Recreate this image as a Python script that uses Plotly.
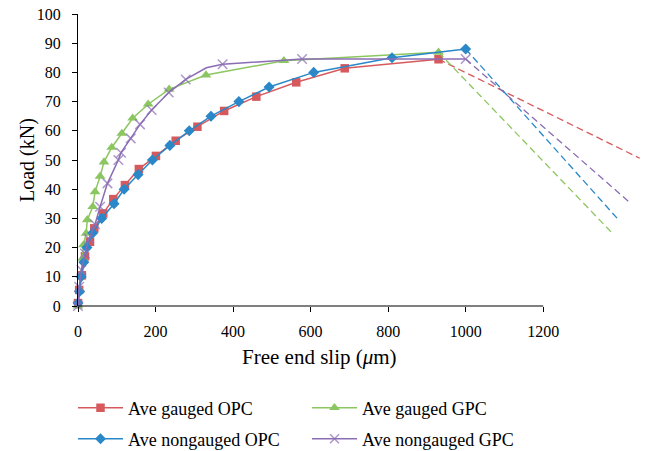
import plotly.graph_objects as go

# Average load-slip curves for pull-out specimens (slip in micrometres, load in kN)
gauged_opc_slip = [0, 3, 10, 18, 31, 42, 65, 91, 121, 157, 201, 252, 308, 377, 460, 563, 688, 930]
gauged_opc_load = [1, 5.5, 10.5, 17, 22, 26.6, 31.7, 36.6, 41.4, 46.9, 51.4, 56.6, 61.4, 66.8, 71.7, 76.6, 81.4, 84.5]

gauged_gpc_slip = [0, 5, 8, 12, 14, 21, 24, 38, 44, 57, 67, 87, 113, 141, 181, 235, 330, 531, 930]
gauged_gpc_load = [0, 5.5, 10.6, 16.3, 20.9, 24.9, 29.5, 34, 39.1, 44.4, 49.3, 54.3, 59.1, 64.3, 69.1, 74.2, 79.1, 84, 86.9]

nongauged_opc_slip = [0, 4, 8, 15, 23, 38, 61, 93, 119, 155, 192, 237, 287, 343, 415, 493, 608, 810, 1000]
nongauged_opc_load = [1, 5, 10, 15, 20, 25, 30, 35, 40, 45, 50, 55, 60, 65, 70, 75, 80, 85, 88]

nongauged_gpc_slip = [0, 3, 9, 18, 28, 44, 57, 76, 104, 111, 136, 160, 190, 234, 278, 331, 373, 578, 1000]
nongauged_gpc_load = [0, 6.6, 12.3, 18, 23, 28, 34, 42, 50, 52.5, 57.4, 62.2, 67.1, 73.1, 77.6, 81.6, 82.8, 84.6, 84.6]

# Post-peak descending branches (trend extension from the peak point)
gauged_opc_tail = ([930, 1449], [84.5, 50.6])
gauged_gpc_tail = ([930, 1380], [86.9, 24.7])
nongauged_opc_tail = ([1000, 1393], [88, 29.7])
nongauged_gpc_tail = ([1000, 1421], [84.6, 35.7])

x_ticks = [0, 200, 400, 600, 800, 1000, 1200]
y_ticks = [0, 10, 20, 30, 40, 50, 60, 70, 80, 90, 100]

RED = "#D65A5D"
GREEN = "#8CC661"
BLUE = "#2A87C8"
PURPLE = "#8A6DB4"
SERIF = "Liberation Serif"

fig = go.Figure()

series = [
    ("Ave gauged OPC", gauged_opc_slip, gauged_opc_load, gauged_opc_tail, RED, "square", 8.5, "legend"),
    ("Ave gauged GPC", gauged_gpc_slip, gauged_gpc_load, gauged_gpc_tail, GREEN, "triangle-up", 9.5, "legend"),
    ("Ave nongauged OPC", nongauged_opc_slip, nongauged_opc_load, nongauged_opc_tail, BLUE, "diamond", 8.5, "legend2"),
    ("Ave nongauged GPC", nongauged_gpc_slip, nongauged_gpc_load, nongauged_gpc_tail, PURPLE, "x-thin", 9.5, "legend2"),
]

# the purple curve has a vertex without a marker at its knee
purple_knee = 15

for name, xs, ys, tail, color, symbol, size, leg in series:
    sizes = size
    if symbol == "x-thin":
        sizes = [0 if i == purple_knee else size for i in range(len(xs))]
    fig.add_trace(go.Scatter(
        x=tail[0], y=tail[1], mode="lines", showlegend=False,
        line=dict(color=color, width=1.3, dash="7px,4px"), hoverinfo="skip",
    ))
    fig.add_trace(go.Scatter(
        x=xs, y=ys, name=name, mode="lines+markers", legend=leg,
        line=dict(color=color, width=1.5),
        marker=dict(symbol=symbol, size=sizes, color=color,
                    line=dict(color=color, width=1.5 if symbol == "x-thin" else 0)),
        cliponaxis=False,
    ))

# x-axis line spans only the labelled range
fig.add_shape(type="line", xref="x", yref="paper", x0=0, x1=1200, y0=0, y1=0,
              line=dict(color="black", width=1.2))

fig.add_annotation(text="Free end slip (<i>μ</i>m)", xref="x", yref="paper",
                   x=624, y=0, yshift=-51, xanchor="center", yanchor="middle",
                   showarrow=False, font=dict(family=SERIF, size=21, color="black"))
fig.add_annotation(text="Load (kN)", xref="paper", yref="paper", x=0, y=0.5,
                   xshift=-51, xanchor="center", yanchor="middle", textangle=-90,
                   showarrow=False, font=dict(family=SERIF, size=20, color="black"))

legend_style = dict(orientation="h", xref="container", yref="container",
                    xanchor="left", yanchor="middle",
                    font=dict(family=SERIF, size=18, color="black"),
                    entrywidth=174, itemwidth=45, bgcolor="rgba(0,0,0,0)",
                    traceorder="normal")

fig.update_layout(
    width=649, height=451,
    margin=dict(l=78, r=5, t=14, b=145, autoexpand=False),
    paper_bgcolor="white", plot_bgcolor="white",
    showlegend=True,
    legend=dict(x=73 / 649, y=1 - 408 / 451, **legend_style),
    legend2=dict(x=73 / 649, y=1 - 439 / 451, **legend_style),
    xaxis=dict(range=[0, 1460], tickvals=x_ticks, ticks="outside", ticklen=5,
               tickcolor="black", tickwidth=1.2, showline=False, showgrid=False,
               zeroline=False, ticklabelstandoff=6,
               tickfont=dict(family=SERIF, size=16, color="black")),
    yaxis=dict(range=[0, 100], tickvals=y_ticks, ticks="outside", ticklen=5,
               tickcolor="black", tickwidth=1.2, showline=True, linecolor="black",
               linewidth=1.2, showgrid=False, zeroline=False, ticklabelstandoff=8,
               tickfont=dict(family=SERIF, size=16, color="black")),
)

fig.write_html("out.html")
